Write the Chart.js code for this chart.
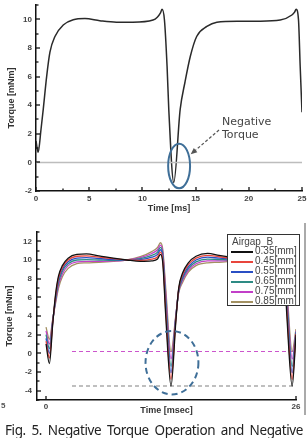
<!DOCTYPE html>
<html><head><meta charset="utf-8">
<script src="https://cdn.jsdelivr.net/npm/chart.js@4.4.1/dist/chart.umd.min.js"></script>
<style>
html,body{margin:0;padding:0;background:#fff;width:308px;height:438px;overflow:hidden;position:relative;}
canvas{position:absolute;left:0;}
#c1{top:0;width:308px;height:220px;}
#c2{top:220px;width:308px;height:200px;}
.txt{position:absolute;white-space:nowrap;}
#neg{left:222px;top:116px;font:11px 'DejaVu Sans';line-height:12.5px;color:#444;}
#legend{position:absolute;left:227px;top:234px;width:71px;height:70px;border:1px solid #333;background:#fff;font:10px 'Liberation Sans';color:#444;}
#legend .ttl{position:absolute;left:4px;top:1px;}
#legend .row{position:absolute;left:3px;height:10px;width:68px;}
#legend .ln{position:absolute;left:0;top:5px;width:22px;height:2px;}
#legend .lb{position:absolute;left:24px;top:-1px;line-height:12px;}
#rline{position:absolute;left:304px;top:223px;width:1.5px;height:192px;background:#aaa;}
#frag{left:1px;top:401px;font:bold 8px 'Liberation Sans';color:#555;}
#caption{left:5px;top:422px;width:298px;font:13.5px 'Noto Sans';line-height:16px;color:#222;text-align:justify;text-align-last:justify;letter-spacing:-0.4px;white-space:nowrap;}
</style></head><body>
<canvas id="c1" width="308" height="220"></canvas>
<canvas id="c2" width="308" height="200"></canvas>
<div id="neg" class="txt">Negative<br>Torque</div>
<div id="legend"></div>
<div id="rline"></div>
<div id="frag" class="txt">5</div>
<div id="caption" class="txt">Fig. 5. Negative Torque Operation and Negative</div>
<script>
// ---------- Top chart data ----------
const topTime   = [0, 0.2, 0.47, 0.68, 1.0, 1.31, 1.78, 2.56, 3.5, 4.6, 6.0, 7.56, 9.1, 11.0, 11.4, 11.7, 11.85, 12.07, 12.32, 12.48, 12.95, 13.55, 14.0, 14.5, 15.1, 16.06, 17.0, 18.9, 21.1, 22.95, 24.05, 24.3, 24.45, 24.67, 24.83, 25.0];
const topTorque = [1.5, 0.7, 2.3, 3.7, 6.0, 7.7, 8.8, 9.6, 9.97, 10.05, 9.9, 9.8, 9.8, 9.95, 10.15, 10.45, 10.7, 9.97, 6.7, 3.7, -1.4, 3.7, 5.6, 7.4, 8.8, 9.5, 9.8, 9.87, 9.87, 9.95, 10.3, 10.5, 10.7, 9.97, 6.7, 3.5];
const topXTicks = [0, 5, 10, 15, 20, 25];
const topXMinor = [2.5, 7.5, 12.5, 17.5, 22.5];
const topYTicks = [-2, 0, 2, 4, 6, 8, 10];
const topYMinor = [-1, 1, 3, 5, 7, 9, 11];

// ---------- Bottom chart data ----------
const botTime = [0, 0.35, 0.7, 1.0, 1.3, 1.7, 2.3, 3.2, 4.2, 5.5, 7.0, 8.4, 9.8, 11.0, 11.6, 11.9, 12.15, 12.45, 13.0, 13.5, 13.8, 14.2, 14.8, 15.6, 16.8, 18.0, 19.5, 21.0, 22.5, 23.6, 24.2, 24.5, 24.75, 25.05, 25.6, 26.0];
const gap035 = [1.0, -1.1, 3.2, 6.4, 8.3, 9.4, 10.2, 10.6, 10.65, 10.45, 10.2, 10.0, 9.85, 9.9, 10.1, 10.6, 9.6, 4.0, -3.5, 3.4, 7.0, 8.6, 9.7, 10.4, 10.7, 10.5, 10.25, 10.0, 9.85, 9.9, 10.1, 10.6, 9.6, 4.0, -3.5, 2.0];
const gap045 = [1.3, -0.5, 3.3, 6.2, 8.1, 9.2, 10.0, 10.4, 10.45, 10.3, 10.15, 10.0, 9.95, 10.1, 10.35, 10.85, 9.9, 4.6, -2.8, 3.6, 6.9, 8.4, 9.5, 10.2, 10.5, 10.35, 10.15, 10.0, 9.95, 10.1, 10.35, 10.85, 9.9, 4.6, -2.8, 2.1];
const gap055 = [1.6, 0.0, 3.4, 6.0, 7.9, 9.0, 9.8, 10.2, 10.25, 10.15, 10.05, 10.0, 10.05, 10.3, 10.6, 11.1, 10.2, 5.2, -2.1, 3.8, 6.8, 8.2, 9.3, 10.0, 10.3, 10.2, 10.1, 10.0, 10.05, 10.3, 10.6, 11.1, 10.2, 5.2, -2.1, 2.2];
const gap065 = [2.0, 0.5, 3.5, 5.8, 7.6, 8.8, 9.6, 10.0, 10.05, 10.0, 9.95, 10.0, 10.15, 10.5, 10.85, 11.35, 10.5, 5.8, -1.4, 3.9, 6.7, 8.0, 9.1, 9.8, 10.1, 10.05, 10.0, 10.0, 10.15, 10.5, 10.85, 11.35, 10.5, 5.8, -1.4, 2.3];
const gap075 = [2.4, 1.0, 3.6, 5.6, 7.3, 8.5, 9.4, 9.8, 9.85, 9.85, 9.9, 10.0, 10.25, 10.7, 11.1, 11.6, 10.8, 6.4, -0.6, 4.0, 6.6, 7.8, 8.9, 9.6, 9.9, 9.9, 9.95, 10.0, 10.25, 10.7, 11.1, 11.6, 10.8, 6.4, -0.6, 2.4];
const gap085 = [2.8, 1.5, 3.7, 5.4, 7.0, 8.2, 9.1, 9.6, 9.7, 9.75, 9.85, 10.0, 10.35, 10.9, 11.35, 11.85, 11.1, 7.0, 0.2, 4.1, 6.5, 7.6, 8.7, 9.4, 9.7, 9.75, 9.9, 10.0, 10.35, 10.9, 11.35, 11.85, 11.1, 7.0, 0.2, 2.6];
const gapLabels = ['0.35[mm]', '0.45[mm]', '0.55[mm]', '0.65[mm]', '0.75[mm]', '0.85[mm]'];
const gapSeries = [gap035, gap045, gap055, gap065, gap075, gap085];
const refLevels = [0.2, -3.5];
const refSpan = [2.7, 26];
const botXTicks = [0, 26];
const botYTicks = [-4, -2, 0, 2, 4, 6, 8, 10, 12];
const botYMinor = [-5, -3, -1, 1, 3, 5, 7, 9, 11, 13];

// ---------- styles ----------
const gapColors = ['#111111', '#e8453c', '#2a4fc4', '#2e8b84', '#c23fc8', '#a39163'];
const refColors = ['#cc55cc', '#808080'];
const tickFont = {family: 'Liberation Sans', size: 8, weight: 'bold'};
const titleFont = {family: 'Liberation Sans', size: 9, weight: 'bold', lineHeight: 1.2};

const inwardTicks = {
  id: 'inwardTicks',
  afterDraw(chart, args, o) {
    const {ctx, chartArea: a, scales: {x, y}} = chart;
    ctx.save();
    ctx.strokeStyle = '#111'; ctx.lineWidth = 1.3;
    const seg = (x1, y1, x2, y2) => { ctx.beginPath(); ctx.moveTo(x1, y1); ctx.lineTo(x2, y2); ctx.stroke(); };
    (o.xMajor || []).forEach(v => { const p = Math.round(x.getPixelForValue(v)); seg(p, a.bottom, p, a.bottom - 4); });
    (o.xMinor || []).forEach(v => { const p = Math.round(x.getPixelForValue(v)); seg(p, a.bottom, p, a.bottom - 2.5); });
    (o.yMajor || []).forEach(v => { const p = Math.round(y.getPixelForValue(v)); seg(a.left, p, a.left + 4, p); });
    (o.yMinor || []).forEach(v => { const p = Math.round(y.getPixelForValue(v)); seg(a.left, p, a.left + 2.5, p); });
    ctx.restore();
  }
};

const annot = {
  id: 'annot',
  afterDatasetsDraw(chart, args, o) {
    const {ctx, scales: {x, y}} = chart;
    (o.ellipses || []).forEach(e => {
      const cx = x.getPixelForValue(e.x), cy = y.getPixelForValue(e.y);
      const rx = Math.abs(x.getPixelForValue(e.x + e.rx) - cx), ry = Math.abs(y.getPixelForValue(e.y + e.ry) - cy);
      ctx.save(); ctx.beginPath(); ctx.ellipse(cx, cy, rx, ry, 0, 0, Math.PI * 2);
      ctx.strokeStyle = e.color; ctx.lineWidth = e.width; ctx.setLineDash(e.dash || []); ctx.stroke(); ctx.restore();
    });
    (o.arrows || []).forEach(r => {
      const x1 = x.getPixelForValue(r.x1), y1 = y.getPixelForValue(r.y1);
      const x2 = x.getPixelForValue(r.x2), y2 = y.getPixelForValue(r.y2);
      const ang = Math.atan2(y2 - y1, x2 - x1);
      ctx.save(); ctx.strokeStyle = r.color; ctx.fillStyle = r.color; ctx.lineWidth = 1.2;
      ctx.setLineDash([3, 2]); ctx.beginPath(); ctx.moveTo(x1, y1);
      ctx.lineTo(x2 - 5 * Math.cos(ang), y2 - 5 * Math.sin(ang)); ctx.stroke();
      ctx.setLineDash([]); ctx.beginPath(); ctx.moveTo(x2, y2);
      ctx.lineTo(x2 - 7 * Math.cos(ang - 0.4), y2 - 7 * Math.sin(ang - 0.4));
      ctx.lineTo(x2 - 7 * Math.cos(ang + 0.4), y2 - 7 * Math.sin(ang + 0.4));
      ctx.closePath(); ctx.fill(); ctx.restore();
    });
  }
};

function xScale(min, max, ticks, height, titleText, titlePad, tickPad) {
  return {
    type: 'linear', min, max,
    grid: {display: false, drawTicks: false, tickLength: 0},
    border: {display: true, color: '#111', width: 1.5},
    ticks: {font: tickFont, color: '#444', padding: tickPad, autoSkip: false, maxRotation: 0},
    afterBuildTicks: s => { s.ticks = ticks.map(v => ({value: v})); },
    afterFit: s => { s.height = height; s.paddingLeft = 0; s.paddingRight = 0; },
    title: {display: true, text: titleText, font: titleFont, color: '#333', padding: {top: 0, bottom: titlePad}}
  };
}
function yScale(min, max, ticks, width, titlePad, tickPad) {
  return {
    type: 'linear', min, max,
    grid: {display: false, drawTicks: false, tickLength: 0},
    border: {display: true, color: '#111', width: 1.5},
    ticks: {font: tickFont, color: '#444', padding: tickPad, autoSkip: false},
    afterBuildTicks: s => { s.ticks = ticks.map(v => ({value: v})); },
    afterFit: s => { s.width = width; s.paddingTop = 0; s.paddingBottom = 0; },
    title: {display: true, text: 'Torque [mNm]', font: titleFont, color: '#333', padding: {top: titlePad, bottom: 0}}
  };
}
const pts = (xs, ys) => xs.map((t, i) => ({x: t, y: ys[i]}));

new Chart(document.getElementById('c1'), {
  type: 'line',
  data: {datasets: [
    {data: [{x: 0, y: 0}, {x: 25, y: 0}], borderColor: '#bdbdbd', borderWidth: 1.5, pointRadius: 0},
    {data: pts(topTime, topTorque), borderColor: '#2a2a2a', borderWidth: 1.5, pointRadius: 0, cubicInterpolationMode: 'monotone'}
  ]},
  options: {
    responsive: false, animation: false, devicePixelRatio: 1,
    layout: {padding: {left: 0, right: 6, top: 5, bottom: 0}},
    plugins: {legend: {display: false}, tooltip: {enabled: false},
      inwardTicks: {xMajor: topXTicks, xMinor: topXMinor, yMajor: topYTicks, yMinor: topYMinor},
      annot: {ellipses: [{x: 13.45, y: -0.25, rx: 1.03, ry: 1.56, color: '#3f6f98', width: 2}],
              arrows: [{x1: 17.2, y1: 2.26, x2: 14.54, y2: 0.56, color: '#555'}]}},
    scales: {
      x: xScale(0, 25, topXTicks, 29, 'Time [ms]', 6, 3),
      y: yScale(-2, 11, topYTicks, 36, 6, 4)
    }
  },
  plugins: [inwardTicks, annot]
});

const botSets = gapSeries.map((s, i) => ({
  label: gapLabels[i], data: pts(botTime, s), borderColor: gapColors[i], borderWidth: 1.3,
  pointRadius: 0, cubicInterpolationMode: 'monotone'
}));
refLevels.forEach((v, i) => botSets.push({
  data: [{x: refSpan[0], y: v}, {x: refSpan[1], y: v}], borderColor: refColors[i], borderWidth: 1.1,
  borderDash: [4, 3], pointRadius: 0
}));

new Chart(document.getElementById('c2'), {
  type: 'line',
  data: {datasets: botSets},
  options: {
    responsive: false, animation: false, devicePixelRatio: 1,
    layout: {padding: {left: 0, right: 12, top: 12, bottom: 0}},
    plugins: {legend: {display: false}, tooltip: {enabled: false},
      inwardTicks: {xMajor: botXTicks, yMajor: botYTicks, yMinor: botYMinor},
      annot: {ellipses: [{x: 13.1, y: -1.0, rx: 2.75, ry: 3.4, color: '#3f6f98', width: 2, dash: [6, 4]}]}},
    scales: {
      x: xScale(-0.94, 26, botXTicks, 20, 'Time [msec]', 4.5, 2),
      y: yScale(-5, 13, botYTicks, 37, 4.5, 5)
    }
  },
  plugins: [inwardTicks, annot]
});

// HTML legend from the series labels
const lg = document.getElementById('legend');
let html = '<div class="ttl">Airgap_B</div>';
gapLabels.forEach((l, i) => {
  html += `<div class="row" style="top:${11 + i * 10}px"><div class="ln" style="background:${gapColors[i]}"></div><div class="lb">${l}</div></div>`;
});
lg.innerHTML = html;
</script>
</body></html>
